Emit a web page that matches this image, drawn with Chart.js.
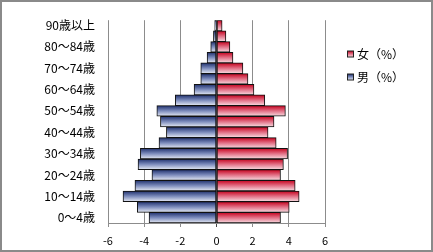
<!DOCTYPE html>
<html>
<head>
<meta charset="utf-8">
<script src="https://cdn.jsdelivr.net/npm/chart.js@4.4.1/dist/chart.umd.min.js"></script>
<style>
html,body{margin:0;padding:0;background:#fff;}
#wrap{width:433px;height:252px;position:relative;}
</style>
</head>
<body>
<div id="wrap"><canvas id="c" width="433" height="252"></canvas></div>
<script>
// Categories from bottom (youngest) to top (oldest)
const categories = ['0〜4歳','5〜9歳','10〜14歳','15〜19歳','20〜24歳','25〜29歳','30〜34歳','35〜39歳','40〜44歳','45〜49歳','50〜54歳','55〜59歳','60〜64歳','65〜69歳','70〜74歳','75〜79歳','80〜84歳','85〜89歳','90歳以上'];
const maleValues = [-3.73,-4.38,-5.17,-4.51,-3.57,-4.34,-4.21,-3.18,-2.77,-3.10,-3.30,-2.28,-1.24,-0.87,-0.87,-0.52,-0.32,-0.17,-0.10];
const femaleValues = [3.54,4.02,4.57,4.35,3.54,3.70,3.93,3.30,2.85,3.18,3.81,2.67,2.07,1.74,1.46,0.91,0.74,0.52,0.31];
const xTicks = [-6,-4,-2,0,2,4,6];
const seriesNames = ['男(%)','女(%)'];
const legendNames = ['女（%）','男（%）'];

const FONT = '"Noto Sans CJK JP", "Noto Sans", sans-serif';
const blueStops = ['#1e2f6c','#7d8cbc','#e6eaf4'];
const redStops = ['#c4001c','#e27086','#f8dde2'];

function barGradient(ctx, stops) {
  const chart = ctx.chart;
  const ys = chart.scales.y;
  if (!ys || ctx.dataIndex === undefined) return stops[1];
  const c = ys.getPixelForValue(ctx.dataIndex);
  const h = Math.abs(ys.getPixelForValue(1) - ys.getPixelForValue(0));
  if (!isFinite(c) || !isFinite(h) || h === 0) return stops[1];
  const g = chart.ctx.createLinearGradient(0, c - h/2, 0, c + h/2);
  g.addColorStop(0, stops[0]);
  g.addColorStop(0.5, stops[1]);
  g.addColorStop(1, stops[2]);
  return g;
}

const framePlugin = {
  id: 'frame',
  beforeDraw(chart) {
    const c = chart.ctx;
    c.save();
    c.fillStyle = '#fff';
    c.fillRect(0,0,chart.width,chart.height);
    c.restore();
  },
  afterDraw(chart) {
    const c = chart.ctx;
    c.save();
    c.strokeStyle = '#8a8a8a';
    c.lineWidth = 2;
    c.strokeRect(1,1,chart.width-2,chart.height-2);
    // legend
    const items = [
      {text: legendNames[0], stops: redStops, y: 54},
      {text: legendNames[1], stops: blueStops, y: 77}
    ];
    c.font = '12px ' + FONT;
    c.textBaseline = 'middle';
    c.textAlign = 'left';
    items.forEach(it => {
      const g = c.createLinearGradient(0, it.y-3, 0, it.y+3);
      g.addColorStop(0, it.stops[0]);
      g.addColorStop(0.5, it.stops[1]);
      g.addColorStop(1, it.stops[2]);
      c.fillStyle = g;
      c.fillRect(347.5, it.y-3, 6, 6);
      c.strokeStyle = '#222';
      c.lineWidth = 1;
      c.strokeRect(347.5, it.y-3, 6, 6);
      c.fillStyle = '#000';
      c.fillText(it.text, 357, it.y);
    });
    c.restore();
  }
};

new Chart(document.getElementById('c'), {
  type: 'bar',
  data: {
    labels: categories,
    datasets: [
      {
        label: seriesNames[0],
        data: maleValues,
        backgroundColor: (ctx) => barGradient(ctx, blueStops),
        borderColor: '#111',
        borderWidth: 1,
        borderSkipped: false,
        barPercentage: 1,
        categoryPercentage: 1
      },
      {
        label: seriesNames[1],
        data: femaleValues,
        backgroundColor: (ctx) => barGradient(ctx, redStops),
        borderColor: '#111',
        borderWidth: 1,
        borderSkipped: false,
        barPercentage: 1,
        categoryPercentage: 1
      }
    ]
  },
  options: {
    indexAxis: 'y',
    responsive: false,
    animation: false,
    devicePixelRatio: 1,
    layout: { padding: { left: 8, right: 108, top: 15, bottom: 0 } },
    plugins: {
      legend: { display: false },
      tooltip: { enabled: false }
    },
    scales: {
      x: {
        type: 'linear',
        min: -6,
        max: 6,
        stacked: true,
        afterBuildTicks: (s) => { s.ticks = xTicks.map(v => ({value: v})); },
        afterFit: (s) => { s.height = 29; },
        grid: {
          color: (ctx) => (ctx.tick && ctx.tick.value === 0) ? '#444' : '#8c8c8c',
          lineWidth: 1,
          tickLength: 4,
          drawTicks: true
        },
        border: { display: true, color: '#8c8c8c' },
        ticks: {
          color: '#000',
          font: { family: FONT, size: 11 },
          padding: 7,
          callback: (v) => String(v)
        }
      },
      y: {
        type: 'category',
        reverse: true,
        stacked: true,
        offset: true,
        afterFit: (s) => { s.width = 100; },
        grid: { display: false, drawTicks: false },
        border: { display: false },
        ticks: {
          autoSkip: false,
          color: '#000',
          font: { family: FONT, size: 12 },
          padding: 13,
          callback: (v, i) => (i % 2 === 0 ? categories[i] : '')
        }
      }
    }
  },
  plugins: [framePlugin]
});
</script>
</body>
</html>
